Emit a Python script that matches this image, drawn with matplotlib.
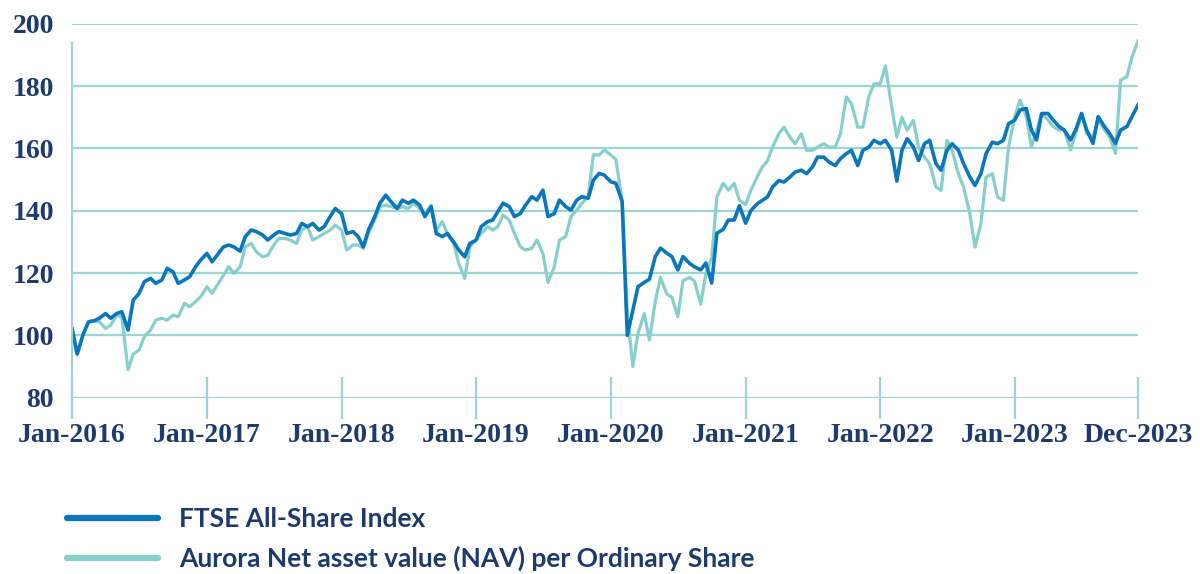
import matplotlib
matplotlib.use('Agg')
import matplotlib.pyplot as plt
import pandas as pd

# semi-monthly samples, Jan-2016 .. Dec-2023
dates = pd.date_range('2016-01-01', periods=191, freq='SMS')

ftse = [
    # 2016
    102.2, 94, 100.6, 104.4, 104.7, 105.5, 107, 105.5, 107, 107.6, 101.7, 111.3,
    113.5, 117.2, 118.3, 116.7, 117.8, 121.5, 120.4, 116.7, 117.8, 118.8, 122, 124.2,
    # 2017
    126.3, 123.6, 126.3, 128.4, 129, 128.4, 127, 131.7, 133.8, 133.3, 132.2, 130.6,
    132.2, 133.3, 132.7, 132.2, 132.7, 135.9, 134.9, 135.9, 133.8, 134.9, 138.1, 140.7,
    # 2018
    139.1, 132.7, 133.3, 131.7, 128.4, 133.8, 138.1, 142.4, 145, 142.9, 140.7, 143.4,
    142.4, 143.4, 141.8, 138.1, 141.3, 132.7, 131.7, 132.7, 130, 127.4, 125.2, 129.5,
    # 2019
    130.6, 134.9, 136.5, 137, 139.7, 142.4, 141.3, 138.1, 139.1, 141.8, 144.5, 143.4,
    146.6, 138.1, 139.1, 143.4, 141.3, 140.2, 143.4, 144.5, 144, 149.8, 152, 151.4,
    # 2020
    149.3, 148.8, 143, 100, 108, 115.6, 117, 118, 125.3, 128, 126.4, 125.3,
    121, 125.3, 123.2, 122, 121, 123.2, 116.8, 132.8, 134, 137, 137, 141.6,
    # 2021
    136, 140, 142.2, 143.3, 144.4, 147.6, 149.7, 149.2, 150.8, 152.4, 153, 151.9,
    154, 157.2, 157.2, 155.6, 154.5, 156.7, 158.3, 159.4, 154.5, 159.4, 160.4, 162.6,
    # 2022
    161.5, 162.6, 159.4, 149.5, 159.4, 163.1, 160.4, 156.1, 161.5, 162.6, 155.1, 153,
    159.4, 161.5, 159.4, 155.1, 150.8, 148.1, 151.9, 158.3, 162, 161.5, 162.6, 167.9,
    # 2023
    169.1, 172.3, 172.8, 165.9, 162.7, 171.2, 171.2, 169.1, 167, 165.9, 162.7, 165.9,
    171.2, 165.9, 161.6, 170.2, 167, 164.8, 161.6, 165.9, 167, 170.2, 173.9,
]

nav = [
    # 2016
    102.2, 94.5, 100.6, 104.2, 104.5, 104.4, 102.2, 103.3, 106.5, 106, 89, 94,
    95.3, 99.6, 101.7, 104.9, 105.5, 104.9, 106.5, 106, 110.3, 109.2, 110.8, 112.4,
    # 2017
    115.6, 113.5, 116.7, 119.4, 122, 119.9, 122, 128.4, 129.5, 126.8, 125.2, 125.7,
    129, 131.1, 131.1, 130.6, 129.5, 133.8, 134.9, 130.6, 131.7, 132.7, 133.8, 135.4,
    # 2018
    133.8, 127.4, 129, 129, 127.9, 132.7, 137, 141.3, 141.8, 141.3, 140.7, 141.3,
    140.7, 142.4, 140.7, 139.1, 141.8, 133.8, 136.5, 132.7, 129.5, 123.1, 118.3, 128.4,
    # 2019
    130.6, 132.7, 134.9, 133.8, 134.9, 138.6, 137, 132.7, 128.4, 127.4, 127.9, 130.6,
    126.3, 117, 122, 130.6, 131.7, 138.1, 140.2, 142.4, 144.5, 157.9, 157.9, 159.5,
    # 2020
    157.9, 156.4, 143.4, 107, 90, 100.7, 107, 98.5, 111, 118.6, 113.3, 112.2,
    106, 117.5, 118.6, 117.5, 110, 119.7, 125, 144.5, 148.8, 146.6, 148.8, 143.4,
    # 2021
    142, 146.5, 150.8, 154, 156, 160.4, 164.7, 166.8, 163.6, 161.5, 164.7, 159.4,
    159.4, 160.4, 161.5, 160.4, 160.4, 164.7, 176.5, 174.3, 166.8, 166.8, 176.5, 180.7,
    # 2022
    180.7, 186.5, 173.3, 163.6, 170, 165.8, 169, 160.4, 157.2, 155.1, 147.6, 146.5,
    162.6, 159.4, 151.9, 147.6, 139, 128.3, 135.8, 150.8, 151.9, 144.4, 143.3, 160.4,
    # 2023
    170.2, 175.5, 170.2, 160.5, 165.9, 171.2, 169.1, 167, 165.9, 165.9, 159.5, 164.8,
    171.2, 164.8, 163.7, 169.1, 165.9, 163.7, 158.4, 181.9, 183, 189.4, 194.5,
]

tick_dates = ['2016-01-01', '2017-01-01', '2018-01-01', '2019-01-01', '2020-01-01',
              '2021-01-01', '2022-01-01', '2023-01-01', '2023-12-01']
tick_labels = ['Jan-2016', 'Jan-2017', 'Jan-2018', 'Jan-2019', 'Jan-2020',
               'Jan-2021', 'Jan-2022', 'Jan-2023', 'Dec-2023']
y_ticks = [80, 100, 120, 140, 160, 180, 200]

DARK = '#0a77bd'
LIGHT = '#86cfcc'
GRID = '#9dd5d2'
TEXT = '#1c3a6b'

fig = plt.figure(figsize=(12, 5.74), dpi=100)
ax = fig.add_axes([0.06, 0.3071, 0.8883, 0.6516])

ax.plot(dates, nav, color=LIGHT, lw=2.3, label='Aurora Net asset value (NAV) per Ordinary Share')
ax.plot(dates, ftse, color=DARK, lw=2.6, label='FTSE All-Share Index')

ax.set_ylim(80, 200)
ax.set_xlim(pd.Timestamp(tick_dates[0]), pd.Timestamp(tick_dates[-1]))
ax.set_yticks(y_ticks)
ax.set_xticks(pd.to_datetime(tick_dates))
ax.set_xticklabels(tick_labels)

for s in ax.spines.values():
    s.set_visible(False)
ax.grid(axis='y', color=GRID, lw=1.6)
ax.set_axisbelow(True)
# left axis line, a bit shorter at top and longer at bottom
ax.axvline(pd.Timestamp(tick_dates[0]), ymin=-0.05, ymax=0.948, color=GRID, lw=1.6, clip_on=False)

ax.tick_params(axis='y', length=0, pad=13, labelsize=20, labelcolor=TEXT)
ax.tick_params(axis='x', direction='inout', length=30, width=1.6, color=GRID,
               pad=3, labelsize=20, labelcolor=TEXT)
for lbl in ax.get_xticklabels() + ax.get_yticklabels():
    lbl.set_fontfamily('Liberation Serif')
    lbl.set_fontweight('bold')

handles, labels = ax.get_legend_handles_labels()
leg = fig.legend(handles[::-1], labels[::-1], loc='upper left',
                 bbox_to_anchor=(0.056, 0.116), frameon=False,
                 borderpad=0, borderaxespad=0, handlelength=3.45, handletextpad=0.8,
                 labelspacing=0.55,
                 prop={'family': ['Lato', 'DejaVu Sans'], 'weight': 'bold', 'size': 19})
for t in leg.get_texts():
    t.set_color(TEXT)
for h in leg.get_lines():
    h.set_linewidth(4.5)
    h.set_solid_capstyle('round')

fig.savefig('out.png', dpi=100)
